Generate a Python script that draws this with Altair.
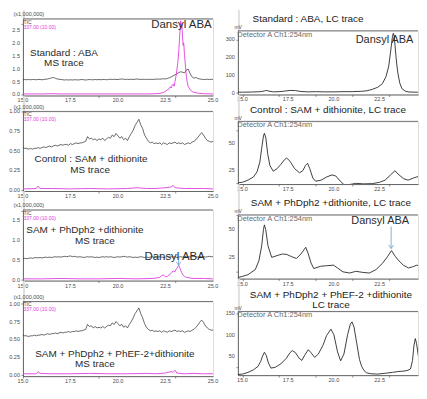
import altair as alt
import pandas as pd

FONT = "Liberation Sans"
INK = "#2b2b2b"
MAG = "#e03de0"
AX = "#4a4a4a"
ARROW = "#7ea6cf"

# ---------------- data ----------------
MS_T = [15.0, 15.1, 15.2, 15.3, 15.4, 15.5, 15.6, 15.7, 15.8, 15.9,
        16.0, 16.1, 16.2, 16.3, 16.4, 16.5, 16.6, 16.7, 16.8, 16.9,
        17.0, 17.1, 17.2, 17.3, 17.4, 17.5, 17.6, 17.7, 17.8, 17.9,
        18.0, 18.1, 18.2, 18.3, 18.4, 18.5, 18.6, 18.7, 18.8, 18.9,
        19.0, 19.1, 19.2, 19.3, 19.4, 19.5, 19.6, 19.7, 19.8, 19.9,
        20.0, 20.1, 20.2, 20.3, 20.4, 20.5, 20.6, 20.7, 20.8, 20.9,
        21.0, 21.1, 21.2, 21.3, 21.4, 21.5, 21.6, 21.7, 21.8, 21.9,
        22.0, 22.1, 22.2, 22.3, 22.4, 22.5, 22.6, 22.7, 22.8, 22.9,
        23.0, 23.1, 23.2, 23.3, 23.4, 23.5, 23.6, 23.7, 23.8, 23.9,
        24.0, 24.1, 24.2, 24.3, 24.4, 24.5, 24.6, 24.7, 24.8, 24.9, 25.0]

L1_BLACK = [.57, .58, .57, .58, .57, .58, .58, .57, .58, .58,
            .57, .58, .59, .60, .62, .64, .66, .63, .60, .59,
            .58, .57, .56, .57, .56, .57, .56, .57, .57, .56,
            .57, .58, .57, .56, .57, .58, .57, .57, .58, .57,
            .58, .57, .58, .58, .57, .58, .59, .58, .59, .58,
            .58, .59, .60, .59, .58, .59, .58, .59, .58, .59,
            .60, .59, .58, .59, .58, .59, .58, .59, .58, .59,
            .59, .60, .59, .60, .61, .60, .62, .65, .68, .72,
            .76, .80, .85, .88, .86, .84, .95, .98, .80, .68,
            .63, .66, .62, .60, .59, .58, .58, .59, .58, .59, .58]
L1_MAG_T = [15.0, 15.5, 16.0, 16.5, 17.0, 17.5, 18.0, 18.5, 19.0, 19.5, 20.0, 20.5,
            21.0, 21.5, 22.0, 22.2, 22.4, 22.5, 22.6, 22.7, 22.75, 22.8, 22.85, 22.9,
            22.95, 23.0, 23.05, 23.1, 23.15, 23.2, 23.25, 23.3, 23.33, 23.36, 23.4,
            23.43, 23.46, 23.5, 23.55, 23.6, 23.65, 23.7, 23.8, 23.9, 24.0, 24.2,
            24.5, 25.0]
L1_MAG_V = [.02, .02, .02, .03, .02, .02, .02, .02, .02, .02, .02, .02,
            .02, .02, .03, .04, .08, .12, .18, .22, .30, .25, .35, .40,
            .32, .50, .70, .95, 1.25, 1.70, 2.30, 2.85, 2.60, 2.75, 2.20,
            1.90, 2.00, 1.55, 1.10, .70, .45, .30, .18, .12, .08, .05,
            .03, .02]

L2_BLACK = [.54, .53, .53, .52, .53, .52, .53, .53, .54, .53,
            .54, .55, .54, .55, .56, .55, .56, .57, .56, .57,
            .58, .57, .58, .58, .57, .59, .58, .59, .60, .59,
            .60, .60, .61, .62, .68, .65, .66, .64, .65, .63,
            .65, .64, .66, .63, .65, .67, .66, .70, .68, .72,
            .69, .66, .68, .64, .66, .63, .68, .72, .76, .82,
            .86, .90, .83, .78, .70, .66, .62, .60, .61, .59,
            .60, .59, .60, .58, .60, .59, .58, .60, .59, .60,
            .61, .59, .60, .59, .60, .58, .59, .60, .59, .61,
            .62, .64, .67, .70, .73, .70, .66, .63, .62, .61, .62]
L2_MAG_T = [15.0, 15.7, 15.8, 15.9, 16.5, 17.5, 18.5, 19.5, 20.5, 21.0, 21.5,
            22.0, 22.5, 22.8, 22.9, 23.0, 23.5, 24.0, 24.5, 25.0]
L2_MAG_V = [.015, .02, .05, .02, .02, .015, .02, .015, .02, .03, .02,
            .02, .03, .04, .06, .03, .02, .02, .02, .015]

L3_BLACK = [.53, .54, .53, .54, .55, .54, .55, .56, .55, .56,
            .55, .56, .57, .56, .57, .56, .57, .58, .57, .58,
            .57, .58, .59, .58, .59, .60, .58, .59, .58, .57,
            .58, .57, .56, .57, .58, .57, .58, .57, .56, .57,
            .56, .57, .58, .57, .58, .57, .58, .57, .56, .57,
            .58, .57, .58, .59, .58, .57, .58, .57, .56, .57,
            .56, .57, .58, .57, .56, .57, .56, .57, .58, .57,
            .56, .57, .58, .57, .56, .57, .58, .57, .58, .57,
            .58, .56, .57, .58, .57, .58, .59, .58, .57, .58,
            .59, .58, .57, .58, .59, .58, .57, .58, .59, .58, .58]
L3_MAG_T = [15.0, 16.0, 17.0, 18.0, 19.0, 20.0, 21.0, 21.8, 22.0, 22.2, 22.3,
            22.4, 22.5, 22.6, 22.7, 22.8, 22.9, 23.0, 23.05, 23.1, 23.15, 23.2,
            23.25, 23.3, 23.35, 23.4, 23.5, 23.6, 23.8, 24.0, 24.5, 25.0]
L3_MAG_V = [.02, .02, .03, .02, .02, .03, .02, .03, .04, .06, .10,
            .12, .07, .08, .12, .16, .22, .20, .26, .28, .33, .36,
            .30, .24, .18, .13, .08, .06, .04, .03, .03, .02]

L4_BLACK = [.56, .55, .55, .54, .55, .55, .56, .55, .56, .56,
            .57, .56, .57, .58, .57, .58, .58, .59, .58, .59,
            .60, .59, .60, .60, .61, .60, .61, .61, .62, .61,
            .62, .62, .63, .64, .71, .68, .69, .66, .68, .66,
            .67, .66, .68, .66, .68, .70, .69, .73, .71, .75,
            .72, .69, .71, .67, .69, .66, .71, .75, .80, .86,
            .90, .94, .86, .80, .72, .67, .64, .62, .63, .61,
            .62, .61, .62, .60, .62, .61, .60, .62, .61, .62,
            .63, .61, .62, .61, .62, .60, .61, .62, .61, .63,
            .64, .67, .70, .74, .77, .74, .69, .66, .64, .63, .63]
L4_MAG_T = [15.0, 15.7, 15.8, 15.9, 16.5, 17.5, 18.5, 19.5, 20.5, 21.5,
            22.0, 22.5, 22.8, 22.9, 23.0, 23.1, 23.5, 24.0, 24.5, 25.0]
L4_MAG_V = [.02, .02, .05, .025, .02, .02, .025, .02, .02, .025,
            .02, .03, .05, .04, .07, .03, .02, .025, .02, .02]

R1_T = [14.75, 15.0, 15.5, 16.0, 16.2, 16.3, 16.45, 16.7, 17.0, 17.3, 17.6, 17.9,
        18.2, 18.6, 19.0, 19.5, 20.0, 20.5, 21.0, 21.5, 21.8, 22.1, 22.4, 22.65,
        22.85, 23.0, 23.1, 23.2, 23.25, 23.3, 23.4, 23.45, 23.5, 23.6, 23.72, 23.9,
        24.1, 24.5, 24.7]
R1_V = [2, 2, 3, 5, 9, 12, 8, 4, 5, 8, 12, 11,
        6, 4, 5, 4, 4, 5, 5, 7, 10, 18, 30, 50,
        90, 150, 230, 315, 335, 318, 200, 150, 110, 55, 22, 8,
        3, 2, 2]

R2_T = [14.75, 15.0, 15.3, 15.6, 15.8, 15.95, 16.05, 16.15, 16.2, 16.28, 16.38, 16.5,
        16.68, 16.9, 17.1, 17.3, 17.42, 17.6, 17.85, 18.12, 18.3, 18.45, 18.56, 18.68,
        18.85, 19.0, 19.3, 19.6, 19.9, 20.1, 20.35, 20.6, 20.9, 21.2, 21.6, 22.1,
        22.5, 22.8, 23.1, 23.34, 23.5, 23.8, 24.06, 24.35, 24.7]
R2_V = [12.5, 13, 15, 18, 23, 32, 45, 57, 59.5, 55, 40, 29,
        23.5, 26, 30, 34.5, 36, 33, 26, 22, 24, 29, 31, 26,
        17, 14, 15, 18, 20, 19, 14, 10, 11, 12, 11.5, 11.7,
        13, 15, 20, 24, 21, 16.5, 15, 17, 19]

R3_T = [14.75, 15.0, 15.3, 15.7, 15.9, 16.05, 16.15, 16.2, 16.27, 16.4, 16.6, 16.98,
        17.2, 17.42, 17.7, 17.95, 18.2, 18.46, 18.6, 18.75, 18.9, 19.27, 19.6, 19.98,
        20.2, 20.5, 20.87, 21.2, 21.6, 21.94, 22.3, 22.65, 22.95, 23.15, 23.35, 23.55,
        23.8, 24.08, 24.3, 24.53, 24.7]
R3_V = [7, 8, 9.5, 14, 22, 35, 50, 54, 50, 35, 25, 27,
        28, 27.6, 25.5, 24, 28, 34, 28, 20, 15, 17, 17.5, 18,
        15.5, 12, 11, 12.5, 11.5, 11, 14, 19.5, 26, 31, 26, 22,
        18, 15.5, 16.5, 18, 17]

R4_T = [14.75, 15.0, 15.3, 15.6, 15.85, 16.0, 16.1, 16.2, 16.3, 16.42, 16.56, 16.8,
        17.1, 17.4, 17.6, 17.72, 17.9, 18.1, 18.25, 18.4, 18.6, 18.75, 18.95, 19.15,
        19.4, 19.6, 19.84, 20.0, 20.2, 20.37, 20.55, 20.75, 20.9, 20.99, 21.1, 21.25,
        21.4, 21.52, 21.65, 21.79, 22.0, 22.4, 22.81, 23.2, 23.5, 23.83, 24.05, 24.19,
        24.3, 24.38, 24.45, 24.52, 24.62, 24.7]
R4_V = [7, 8, 12, 18, 26, 38, 50, 59, 52, 34, 22, 24,
        32, 45, 58, 63, 58, 45, 40, 52, 65, 58, 47, 55,
        75, 98, 113, 100, 60, 39, 55, 100, 125, 130, 118, 80,
        42, 26, 16, 11, 9, 8, 10, 12, 14, 15, 17, 20,
        40, 75, 91, 80, 50, 36]

# axis tick values (labelled) and minor tick values
LX_LABELS = [15.0, 17.5, 20.0, 22.5, 25.0]
RX_LABELS = [15.0, 17.5, 20.0, 22.5]
LX_MINOR = [15.0, 15.5, 16.0, 16.5, 17.0, 17.5, 18.0, 18.5, 19.0, 19.5, 20.0,
            20.5, 21.0, 21.5, 22.0, 22.5, 23.0, 23.5, 24.0, 24.5, 25.0]
RX_MINOR = [15.0, 15.5, 16.0, 16.5, 17.0, 17.5, 18.0, 18.5, 19.0, 19.5, 20.0,
            20.5, 21.0, 21.5, 22.0, 22.5, 23.0, 23.5, 24.0, 24.5]
L_XDOM = [15, 25]
R_XDOM = [14.75, 24.6]

MAG_LABEL = "337.00 (10.00)"
DET_LABEL = "Detector A Ch1:254nm"


# ---------------- helpers ----------------
def spacer(h, w=1):
    return alt.Chart(pd.DataFrame({"a": [0]})).mark_rect(opacity=0).encode(
        x=alt.value(0), x2=alt.value(w), y=alt.value(0), y2=alt.value(h)
    ).properties(width=w, height=h)


def txt(rows, size, color=INK, align="center", baseline="middle", dx=0, dy=0):
    df = pd.DataFrame(rows, columns=["t", "v", "label"])
    return alt.Chart(df).mark_text(
        font=FONT, fontSize=size, color=color, align=align, baseline=baseline,
        dx=dx, dy=dy
    ).encode(x="t:Q", y="v:Q", text="label:N")


def ylabels(ticks, fmt, xmin):
    rows = [(xmin, v, format(v, fmt)) for v in ticks]
    return txt(rows, 5.5, color=AX, align="right", dx=-3)


def xlabels(ticks, ymin):
    rows = [(t, ymin, format(t, ".1f")) for t in ticks]
    return txt(rows, 5.5, color=AX, align="center", baseline="top", dy=3)


def arrow(x, y0, y1):
    df = pd.DataFrame({"t": [x], "v": [y0], "v2": [y1]})
    line = alt.Chart(df).mark_rule(color=ARROW, strokeWidth=0.9).encode(
        x="t:Q", y="v:Q", y2="v2:Q")
    head = alt.Chart(df).mark_point(
        shape="M -1 -1.6 L 0 0 L 1 -1.6", filled=False, color=ARROW,
        strokeWidth=0.9, size=22, opacity=1
    ).encode(x="t:Q", y="v2:Q")
    return [line, head]


def axis_common(**kw):
    base = dict(grid=False, labels=False, tickSize=2, tickColor=AX, tickWidth=0.6,
                domainColor="#444", domainWidth=0.8)
    base.update(kw)
    return alt.Axis(**base)


def ms_panel(black, mag_t, mag_v, ydom, ylab, yminor, yfmt, height, labels, extra=()):
    xsc = alt.Scale(domain=L_XDOM, nice=False, zero=False)
    ysc = alt.Scale(domain=ydom, nice=False, zero=False)
    xax = axis_common(values=LX_MINOR, title=None)
    yax = axis_common(values=yminor, title="(x1,000,000)", titleAngle=0,
                      titleAlign="left", titleBaseline="middle", titleX=-10, titleY=-5,
                      titleFontSize=5.5, titleFont=FONT, titleFontWeight="normal",
                      titleColor=AX)
    bdf = pd.DataFrame({"t": MS_T, "v": black})
    mdf = pd.DataFrame({"t": mag_t, "v": mag_v})
    black_line = alt.Chart(bdf).mark_line(color=INK, strokeWidth=0.7).encode(
        x=alt.X("t:Q", scale=xsc, axis=xax), y=alt.Y("v:Q", scale=ysc, axis=yax))
    mag_line = alt.Chart(mdf).mark_line(color=MAG, strokeWidth=0.9).encode(
        x=alt.X("t:Q", scale=xsc), y=alt.Y("v:Q", scale=ysc))
    top = alt.Chart(pd.DataFrame({"v": [ydom[1]]})).mark_rule(
        color="#555", strokeWidth=0.8).encode(y="v:Q")
    tic = txt([(15.03, ydom[1], "TIC")], 5, color=AX, align="left", dy=3)
    mlab = txt([(15.03, ydom[1], MAG_LABEL)], 5, color=MAG, align="left", dy=8)
    layers = [black_line, mag_line, top, tic, mlab,
              ylabels(ylab, yfmt, L_XDOM[0]), xlabels(LX_LABELS, ydom[0])]
    big = [r for r in labels if r[3] == "big"]
    small = [r for r in labels if r[3] == "norm"]
    if small:
        layers.append(txt([r[:3] for r in small], 10))
    if big:
        layers.append(txt([r[:3] for r in big], 11.5))
    layers.extend(extra)
    return alt.layer(*layers).properties(width=191, height=height)


def lc_panel(t, v, ydom, ylab, yminor, height, title, dx, offset, extra=()):
    xsc = alt.Scale(domain=R_XDOM, nice=False, zero=False)
    ysc = alt.Scale(domain=ydom, nice=False, zero=False)
    xax = axis_common(values=RX_MINOR, title=None)
    yax = axis_common(values=yminor, title="mV", titleAngle=0,
                      titleAlign="left", titleBaseline="bottom", titleX=-4, titleY=-1,
                      titleFontSize=5, titleFont=FONT, titleFontWeight="normal",
                      titleColor=AX)
    df = pd.DataFrame({"t": t, "v": v})
    line = alt.Chart(df).mark_line(color=INK, strokeWidth=0.9, clip=True).encode(
        x=alt.X("t:Q", scale=xsc, axis=xax), y=alt.Y("v:Q", scale=ysc, axis=yax))
    top = alt.Chart(pd.DataFrame({"v": [ydom[1]]})).mark_rule(
        color="#555", strokeWidth=0.8).encode(y="v:Q")
    det = txt([(14.72, ydom[1], DET_LABEL)], 7.5, color="#6a6a6a", align="left", dy=4)
    layers = [line, top, det, ylabels(ylab, "d", R_XDOM[0]),
              xlabels(RX_LABELS, ydom[0])] + list(extra)
    return alt.layer(*layers).properties(
        width=181, height=height,
        title=alt.TitleParams(text=title, font=FONT, fontSize=10, fontWeight="normal",
                              color="#222", anchor="middle", dx=dx, offset=offset,
                              lineHeight=11))


# ---------------- panels ----------------
L1 = ms_panel(L1_BLACK, L1_MAG_T, L1_MAG_V, [-0.04, 2.93],
              [0, .5, 1, 1.5, 2, 2.5],
              [0, .25, .5, .75, 1, 1.25, 1.5, 1.75, 2, 2.25, 2.5, 2.75], ".1f", 77,
              [(17.16, 1.62, "Standard : ABA", "norm"), (17.16, 1.2, "MS trace", "norm"),
               (23.34, 2.71, "Dansyl ABA", "big")])
L2 = ms_panel(L2_BLACK, L2_MAG_T, L2_MAG_V, [-0.012, 1.0],
              [0, .25, .5, .75, 1.0],
              [0, .125, .25, .375, .5, .625, .75, .875, 1.0], ".2f", 80,
              [(18.58, 0.395, "Control : SAM + dithionite", "norm"),
               (18.53, 0.26, "MS trace", "norm")])
L3 = ms_panel(L3_BLACK, L3_MAG_T, L3_MAG_V, [-0.024, 1.763],
              [0, .5, 1, 1.5],
              [0, .25, .5, .75, 1, 1.25, 1.5, 1.75], ".1f", 71,
              [(18.26, 1.256, "SAM + PhDph2 +dithionite", "norm"),
               (18.79, 0.966, "MS trace", "norm"),
               (22.98, 0.58, "Dansyl ABA", "big")],
              extra=arrow(23.19, 0.50, 0.36))
L4 = ms_panel(L4_BLACK, L4_MAG_T, L4_MAG_V, [-0.013, 1.03],
              [0, .25, .5, .75, 1.0],
              [0, .125, .25, .375, .5, .625, .75, .875, 1.0], ".2f", 75,
              [(19.84, 0.30, "SAM + PhDph2 + PhEF-2+dithionite", "norm"),
               (18.79, 0.157, "MS trace", "norm")])

R1 = lc_panel(R1_T, R1_V, [-11, 349], [0, 100, 200, 300],
              [0, 50, 100, 150, 200, 250, 300], 64,
              "Standard : ABA, LC trace", -20, 1,
              extra=[txt([(22.77, 295, "Dansyl ABA")], 11)])
R2 = lc_panel(R2_T, R2_V, [11.3, 70.8], [25, 50], [12.5, 25, 37.5, 50, 62.5], 63,
              "Control : SAM + dithionite, LC trace", 0, 0)
R3 = lc_panel(R3_T, R3_V, [6.0, 62.9], [25, 50], [12.5, 25, 37.5, 50, 62.5], 64,
              "SAM + PhDph2 +dithionite, LC trace", 3, 1,
              extra=[txt([(22.53, 57.8, "Dansyl ABA")], 11)] + arrow(23.13, 52.6, 32.8))
R4 = lc_panel(R4_T, R4_V, [5.6, 154.4], [50, 100, 150],
              [25, 50, 75, 100, 125, 150], 64,
              ["SAM + PhDph2 + PhEF-2 +dithionite", "LC trace"], 3, -5)

left_col = alt.vconcat(spacer(9), L1, spacer(16), L2, spacer(19), L3, spacer(21), L4,
                       spacing=0, bounds="flush")
right_col = alt.vconcat(spacer(21), R1, spacer(27), R2, spacer(31), R3, spacer(33), R4,
                        spacing=0, bounds="flush")

chart = alt.hconcat(left_col, right_col, spacing=6).properties(
    padding={"left": 0, "top": 0, "right": 0, "bottom": 0},
    background="white",
).configure_view(stroke=None).configure(font=FONT)

chart.save("out.html", embed_options={"renderer": "svg", "actions": False})
